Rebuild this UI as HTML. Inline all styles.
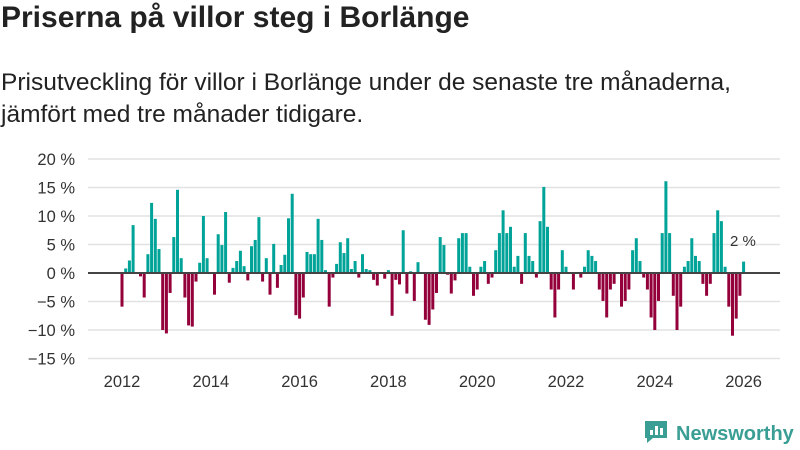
<!DOCTYPE html>
<html><head><meta charset="utf-8"><style>
body{margin:0;width:800px;height:450px;background:#fff;font-family:"Liberation Sans",sans-serif;overflow:hidden;position:relative}
h1{position:absolute;left:1px;top:1px;margin:0;font-size:30px;font-weight:bold;color:#222;white-space:nowrap}
.sub{position:absolute;left:1px;top:67px;margin:0;font-size:24.5px;line-height:32px;color:#222;white-space:nowrap}
svg{position:absolute;left:0;top:0}
</style></head><body>
<h1>Priserna på villor steg i Borlänge</h1>
<p class="sub">Prisutveckling för villor i Borlänge under de senaste tre månaderna,<br>jämfört med tre månader tidigare.</p>
<svg id="c" width="800" height="450"></svg>
<script>
const yTicks=[20,15,10,5,0,-5,-10,-15];
const yTickLabels=["20 %","15 %","10 %","5 %","0 %","−5 %","−10 %","−15 %"];
const xYears=[2012,2014,2016,2018,2020,2022,2024,2026];
const startYear=2012;
const values=[
-5.9,0.8,2.2,8.4,0,-0.6,-4.3,3.3,12.3,9.5,4.2,-10,
-10.6,-3.5,6.3,14.6,2.6,-4.3,-9.2,-9.4,-1.5,1.8,10,2.6,
0,-3.8,6.8,4.9,10.7,-1.7,0.9,2.1,3.9,1.2,-1.3,4.7,
5.8,9.8,-1.5,2.6,-3.8,5.1,-2.6,1.4,3.2,9.6,13.9,-7.4,
-8,-4.3,3.7,3.3,3.3,9.5,5.8,0.5,-5.9,-0.8,1.6,5.4,
3.5,6.1,0.7,2.1,-0.8,3.3,0.7,0.5,-1.2,-2.2,0,-1,
0.5,-7.5,-1.2,-2,7.5,-3.6,0.3,-4.9,1.9,0,-8.2,-9.1,
-6.4,-3.5,6.3,4.9,-0.3,-3.6,-1.3,6.1,7,7,1.1,-4,
-2.9,1.1,2.1,-1.9,-0.8,4,7,11,7,8.1,1.1,3,
-1.9,7,3,2.1,-0.8,9.1,15.1,8.1,-2.9,-7.8,-2.9,4,
1.1,0,-2.9,0,-0.8,1.1,4,3,2.1,-2.9,-4.9,-7.8,
-2.9,-1.9,0,-5.9,-4.9,-2.9,4,6.1,2.1,-0.8,-2.9,-7.8,
-10,-4.9,7,16.1,7,-4,-10,-5.9,1.1,2.1,6.1,3,
2.1,-1.9,-4,-1.9,7,11,9.1,1.1,-5.9,-11,-8,-4,
2];
const lastLabel="2 %";
const svg=document.getElementById('c');const NS='http://www.w3.org/2000/svg';
const y=v=>273-v*5.7;
const x=yr=>122+(yr-startYear)*44.4;
function mk(t,a,p){const e=document.createElementNS(NS,t);for(const k in a)e.setAttribute(k,a[k]);(p||svg).appendChild(e);return e;}
yTicks.forEach((t,i)=>{
 const g=mk('line',{x1:88,x2:780,y1:y(t),y2:y(t),stroke:'#e2e2e2','stroke-width':1.5});
 
 
 const l=mk('text',{x:75,y:y(t)+6,'text-anchor':'end','font-size':16.5,fill:'#333'});
 l.textContent=yTickLabels[i];
 
 
});
xYears.forEach(yr=>{
 const l=mk('text',{x:x(yr),y:387,'text-anchor':'middle','font-size':16.5,fill:'#333'});
 l.textContent=yr;
 
 
});
values.forEach((v,i)=>{
 const cx=x(startYear+i/12);
 const b=mk('rect',{x:cx-1.5,y:Math.min(y(v),273),width:3,height:Math.abs(v*5.7),fill:v>=0?'#00a398':'#93003a'});
 
 
});
const z=mk('line',{x1:88,x2:780,y1:273,y2:273,stroke:'#444','stroke-width':2});


const ll=mk('text',{x:730,y:246,'font-size':15,fill:'#333'});
ll.textContent=lastLabel;


const logo=mk('g',{});


mk('path',{d:'M645 421 h22 v17 h-14 l-6 5 v-5 h-2 z',fill:'#3a9e94'},logo);
mk('rect',{x:650,y:430,width:3,height:5,fill:'#fff'},logo);
mk('rect',{x:655,y:426,width:3,height:9,fill:'#fff'},logo);
mk('rect',{x:660,y:428,width:3,height:7,fill:'#fff'},logo);
const lt=mk('text',{x:676,y:440,'font-size':20,'font-weight':'bold',fill:'#3a9e94'},logo);
lt.textContent='Newsworthy';
</script>
</body></html>
